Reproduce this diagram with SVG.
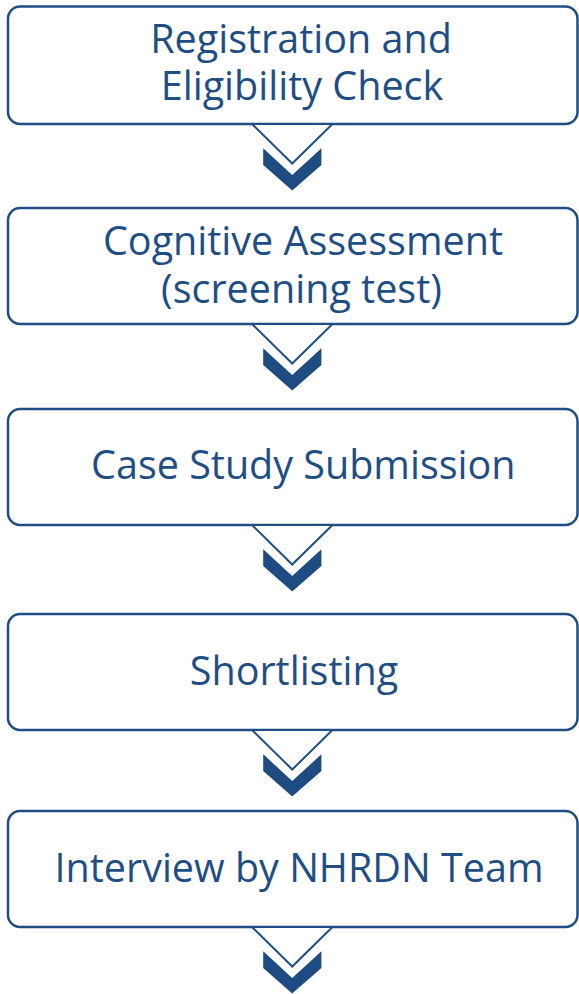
<svg xmlns="http://www.w3.org/2000/svg" width="579" height="994" viewBox="0 0 579 994">
<defs>
<style>
.box{fill:#ffffff;stroke:#1f4e85;stroke-width:2.5}
.lbl{font-family:"Open Sans","Noto Sans",sans-serif;font-size:39.5px;fill:#1f4e85;text-anchor:middle}
.outl{fill:#ffffff;stroke:#1f4e85;stroke-width:2;stroke-linejoin:miter}
.fill{fill:#1d4b82}
</style>
<g id="chev">
<polygon class="outl" points="252,0 332.5,0 292.2,39.5"/>
<polygon class="fill" points="263.2,24.3 292.2,51 321.4,24.3 321.4,41 292.2,66.5 263.2,41"/>
</g>
</defs>
<rect width="579" height="994" fill="#ffffff"/>
<g id="n1"><rect class="box" x="8" y="6.5" width="569.5" height="117.5" rx="12"/>
<text class="lbl" x="301" y="53.3">Registration and</text>
<text class="lbl" x="302" y="100">Eligibility Check</text></g>
<g id="n2"><rect class="box" x="8" y="208" width="569.5" height="116" rx="12"/>
<text class="lbl" x="303" y="255">Cognitive Assessment</text>
<text class="lbl" x="301.5" y="303.3">(screening test)</text></g>
<g id="n3"><rect class="box" x="8" y="409" width="569.5" height="116" rx="12"/>
<text class="lbl" x="303.3" y="479.3">Case Study Submission</text></g>
<g id="n4"><rect class="box" x="8" y="614" width="569.5" height="116" rx="12"/>
<text class="lbl" x="294" y="685">Shortlisting</text></g>
<g id="n5"><rect class="box" x="8" y="811" width="569.5" height="116" rx="12"/>
<text class="lbl" x="299" y="881.7">Interview by NHRDN Team</text></g>
<g id="connectors">
<use href="#chev" y="124"/>
<use href="#chev" y="324"/>
<use href="#chev" y="525"/>
<use href="#chev" y="730"/>
<use href="#chev" y="927"/>
</g>
</svg>
